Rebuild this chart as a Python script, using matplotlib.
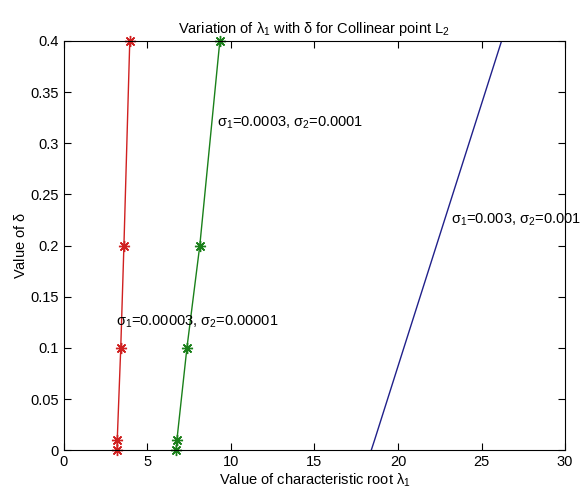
import matplotlib
matplotlib.use("Agg")
import matplotlib.pyplot as plt

plt.rcParams['font.family'] = ['Liberation Sans', 'DejaVu Sans']
plt.rcParams['mathtext.fontset'] = 'custom'
plt.rcParams['mathtext.rm'] = 'Liberation Sans'
plt.rcParams['mathtext.it'] = 'Liberation Sans'

# delta values and characteristic root lambda_1 for each (sigma1, sigma2) pair
delta = [0, 0.01, 0.1, 0.2, 0.4]
lam_small = [3.19, 3.2, 3.41, 3.6, 3.95]     # sigma1=0.00003, sigma2=0.00001
lam_mid = [6.72, 6.77, 7.37, 8.14, 9.34]     # sigma1=0.0003, sigma2=0.0001
lam_large = [18.4, 18.6, 20.35, 22.3, 26.2]  # sigma1=0.003, sigma2=0.001

xticks = [0, 5, 10, 15, 20, 25, 30]
yticks = [0, 0.05, 0.1, 0.15, 0.2, 0.25, 0.3, 0.35, 0.4]
ylabels = ['0', '0.05', '0.1', '0.15', '0.2', '0.25', '0.3', '0.35', '0.4']

fs = 10.5
fig = plt.figure(figsize=(5.85, 4.98), dpi=100)
ax = fig.add_axes([0.109, 0.096, 0.857, 0.822])

asterisk = (8, 2, 0)  # MATLAB-style '*' (plus + cross)
ax.plot(lam_small, delta, color='#d02020', marker=asterisk, markersize=8,
        markeredgewidth=1, lw=1, clip_on=False)
ax.plot(lam_mid, delta, color='#1a801a', marker=asterisk, markersize=8,
        markeredgewidth=1, lw=1, clip_on=False)
ax.plot(lam_large, delta, color='#20208a', lw=1)

ax.text(9.15, 0.32, r'$\sigma_1$=0.0003, $\sigma_2$=0.0001', fontsize=fs, va='center')
ax.text(3.15, 0.125, r'$\sigma_1$=0.00003, $\sigma_2$=0.00001', fontsize=fs, va='center')
ax.text(23.2, 0.225, r'$\sigma_1$=0.003, $\sigma_2$=0.001', fontsize=fs, va='center')

ax.set_xlim(0, 30)
ax.set_ylim(0, 0.4)
ax.set_xticks(xticks)
ax.set_yticks(yticks)
ax.set_yticklabels(ylabels)
ax.tick_params(direction='in', top=True, right=True, labelsize=fs, length=5)
ax.set_xlabel(r'Value of characteristic root $\lambda_1$', fontsize=fs, labelpad=2)
ax.set_ylabel(r'Value of $\delta$', fontsize=fs, labelpad=2)
ax.set_title(r'Variation of $\lambda_1$ with $\delta$ for Collinear point L$_2$', fontsize=fs, pad=6)

fig.savefig('out.png', dpi=100)
